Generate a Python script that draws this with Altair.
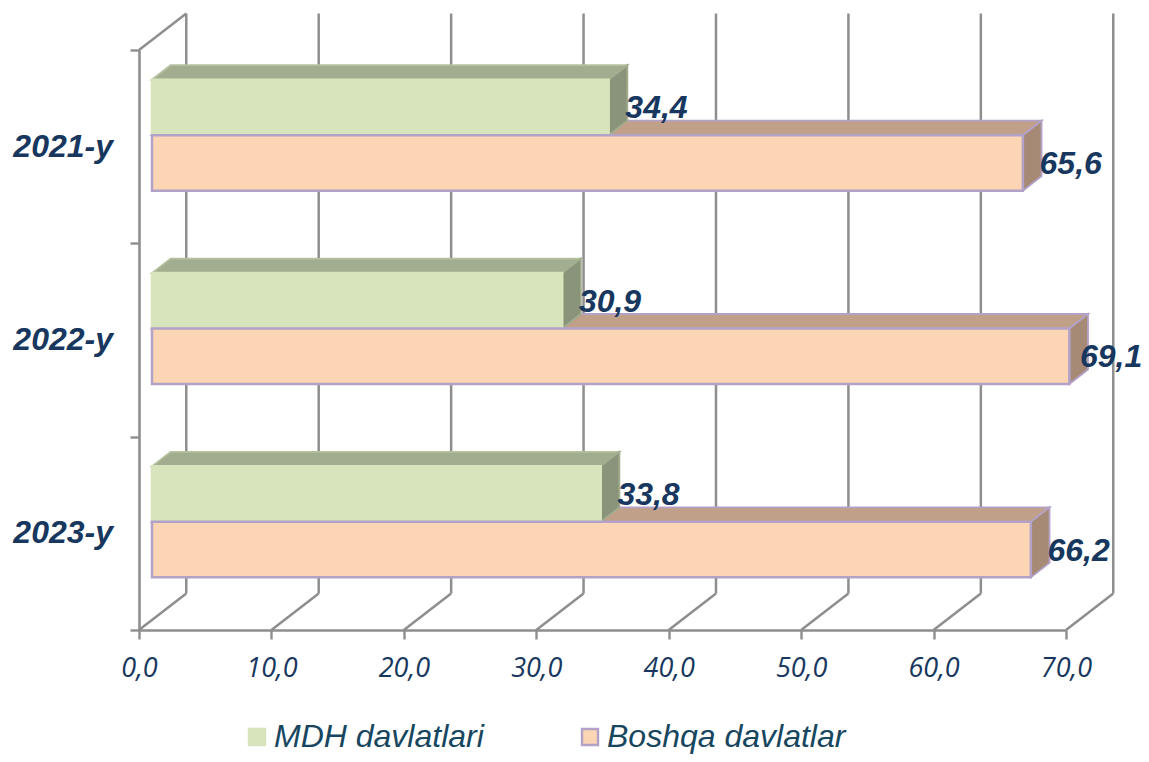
import altair as alt
import pandas as pd

years = ["2021-y", "2022-y", "2023-y"]
mdh = [34.4, 30.9, 33.8]
boshqa = [65.6, 69.1, 66.2]
series = ["MDH davlatlari", "Boshqa davlatlar"]
ticks = [0, 10, 20, 30, 40, 50, 60, 70]

# pseudo-3D projection, in scale units
WALL_DX, WALL_DY = 3.57, 0.1886
BAR_DX, BAR_DY = 1.41, 0.0750
BASE, STRETCH = 0.98, 1.0025
BAR_H, SHIFT = 0.287, 0.0594
LABEL_MAX_X = 71.2  # keeps the widest value label inside the page
NAVY = "#17375e"
GRID = "#8e8e8e"

xs = alt.Scale(domain=[0, 70], nice=False, zero=False)
ys = alt.Scale(domain=[0, 3], nice=False, zero=False)
x_axis = alt.Axis(values=ticks, title=None, grid=False, tickSize=9, tickWidth=2.4, tickColor=GRID,
                  domainColor=GRID, domainWidth=2.6, labelFont="Open Sans", labelFontStyle="italic",
                  labelFontSize=27, labelColor=NAVY, labelPadding=16, labelFlush=False,
                  labelExpr="replace(format(datum.value,'.1f'),'.',',')")
y_axis = alt.Axis(values=[0, 1, 2, 3], title=None, grid=False, tickSize=9, tickWidth=2.4, tickColor=GRID,
                  domainColor=GRID, domainWidth=2.6, labels=False)


def X(f):
    return alt.X(f, type="quantitative", scale=xs, axis=x_axis)


def Y(f):
    return alt.Y(f, type="quantitative", scale=ys, axis=y_axis)


grid = pd.DataFrame({"t": ticks})
grid["xb"] = grid.t + WALL_DX
grid["yb"] = WALL_DY
grid["yt"] = 3 + WALL_DY
grid["y0"] = 0.0
grid["y3"] = 3.0

wall = alt.Chart(grid).mark_rule(color=GRID, strokeWidth=2.5).encode(x=X("xb"), y=Y("yb"), y2=alt.Y2("yt"))
floor = alt.Chart(grid).mark_rule(color=GRID, strokeWidth=2.5).encode(
    x=X("t"), x2=alt.X2("xb"), y=Y("y0"), y2=alt.Y2("yb"))
corner = alt.Chart(grid[grid.t == 0]).mark_rule(color=GRID, strokeWidth=2.5).encode(
    x=X("t"), x2=alt.X2("xb"), y=Y("y3"), y2=alt.Y2("yt"))

fronts, tops, sides, labels = [], [], [], []
for i, yr in enumerate(years):
    centre = 2.5 - i + SHIFT
    for s, vals, bottom in ((series[0], mdh, centre), (series[1], boshqa, centre - BAR_H)):
        top = bottom + BAR_H
        x1 = BASE + vals[i] * STRETCH
        fronts.append(dict(series=s, x0=BASE, x1=x1, y0=bottom, y1=top))
        labels.append(dict(series=s, x=min(x1 + BAR_DX, LABEL_MAX_X), y=(bottom + top) / 2,
                           label=f"{vals[i]:.1f}".replace(".", ",")))
        key = f"{yr}{s}"
        for xv, a, b in ((BASE, top, top), (BASE + BAR_DX, top, top + BAR_DY),
                         (x1, top, top + BAR_DY), (x1 + BAR_DX, top + BAR_DY, top + BAR_DY)):
            tops.append(dict(series=s, key=key, x=xv, a=a, b=b))
        for xv, a, b in ((x1, bottom, top), (x1 + BAR_DX, bottom + BAR_DY, top + BAR_DY)):
            sides.append(dict(series=s, key=key, x=xv, a=a, b=b))
fronts = pd.DataFrame(fronts)
tops = pd.DataFrame(tops)
sides = pd.DataFrame(sides)
labels = pd.DataFrame(labels)


def face(df, s, fill, stroke):
    return alt.Chart(df[df.series == s]).mark_area(
        orient="vertical", fill=fill, stroke=stroke, strokeWidth=1.8, opacity=1
    ).encode(x=X("x"), y=Y("a"), y2=alt.Y2("b"), detail="key:N")


legend = alt.Legend(title=None, orient="none", legendX=102, legendY=671, direction="horizontal",
                    columns=2, symbolType="square", symbolSize=256, symbolStrokeWidth=2.4,
                    labelFont="Liberation Sans", labelFontStyle="italic", labelFontSize=32,
                    labelColor="#17465f", labelLimit=400, labelOffset=1, columnPadding=90)
front = alt.Chart(fronts).mark_rect(strokeWidth=2.5, opacity=1).encode(
    x=X("x0"), x2=alt.X2("x1"), y=Y("y0"), y2=alt.Y2("y1"),
    fill=alt.Fill("series:N", scale=alt.Scale(domain=series, range=["#d7e4bc", "#fcd5b5"]),
                  sort=series, legend=legend),
    stroke=alt.Stroke("series:N", scale=alt.Scale(domain=series, range=["#d7e4bc", "#b3a2c7"]),
                      sort=series, legend=legend),
    order=alt.Order("series:N", sort="descending"),
)

values = alt.Chart(labels).mark_text(
    align="left", baseline="middle", font="Liberation Sans", fontStyle="italic", fontWeight="bold",
    fontSize=32, color=NAVY, dx=-2, dy=1
).encode(x=X("x"), y=Y("y"), text="label:N")

cats = pd.DataFrame({"year": years, "x": [0, 0, 0], "y": [2.5, 1.5, 0.5]})
cat_text = alt.Chart(cats).mark_text(
    align="right", baseline="middle", font="Liberation Sans", fontStyle="italic", fontWeight="bold",
    fontSize=32, color=NAVY, dx=-26
).encode(x=X("x"), y=Y("y"), text="year:N")

chart = alt.layer(
    wall, floor, corner,
    face(tops, series[1], "#c0a088", "#b3a2c7"),
    face(sides, series[1], "#a68a76", "#b3a2c7"),
    face(tops, series[0], "#a2ac8e", "#b5c09f"),
    face(sides, series[0], "#8a947a", "#a2ac8e"),
    front, values, cat_text,
).properties(
    width=927, height=580,
    padding={"left": 131, "top": 42, "right": 75, "bottom": 124},
    autosize=alt.AutoSizeParams(type="none"),
).configure_view(stroke=None)

chart.save("out.html", embed_options={"renderer": "svg", "actions": False})
